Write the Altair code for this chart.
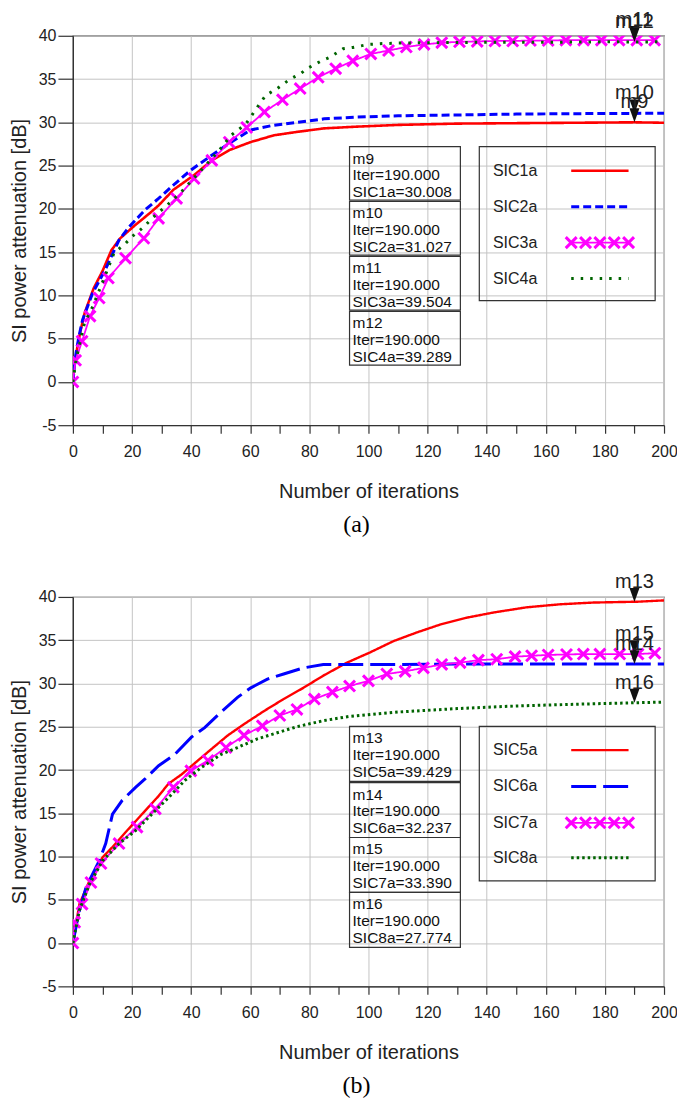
import altair as alt

# ---------------- data: panel (a) ----------------
sic1a_x = [0, 0.5, 1.5, 2.5, 4, 7, 10, 13, 16, 21, 26, 29, 34, 41, 47, 53, 60, 68, 76, 85, 96, 110, 130, 150, 170, 190, 200]
sic1a_y = [0, 2.0, 4.0, 5.8, 8.0, 10.8, 12.8, 15.2, 16.6, 18.1, 19.5, 20.4, 22.2, 23.9, 25.6, 26.8, 27.7, 28.5, 28.9, 29.3, 29.5, 29.7, 29.85, 29.9, 29.95, 30.0, 29.95]

sic2a_x = [0, 0.5, 1.1, 2, 3.3, 6.7, 11, 15.6, 19, 24.5, 29, 34.5, 40, 47, 53.5, 60, 67, 76, 85, 96, 110, 130, 150, 170, 190, 200]
sic2a_y = [0, 1.8, 3.4, 5.2, 7.2, 10.3, 13.0, 16.4, 17.9, 19.9, 21.2, 22.9, 24.5, 26.2, 27.7, 29.1, 29.6, 30.0, 30.4, 30.6, 30.75, 30.85, 30.95, 31.0, 31.03, 31.05]

sic3a_x = [0, 0.9, 3.1, 5.8, 8.9, 12, 17.8, 24, 29, 35.1, 41, 47, 52.9, 58.8, 64.8, 70.9, 76.9, 83, 88.9, 94.7,
           100.8, 106.8, 112.8, 118.8, 124.8, 130.8, 136.8, 142.8, 148.8, 154.8, 160.8, 166.8, 172.8, 178.8, 184.8, 190.8, 196.8]
sic3a_y = [0, 2.5, 4.7, 7.6, 9.7, 12.0, 14.3, 16.6, 18.9, 21.2, 23.5, 25.6, 27.7, 29.4, 31.2, 32.6, 33.9, 35.2, 36.2, 37.1,
           37.9, 38.3, 38.7, 39.0, 39.2, 39.3, 39.35, 39.4, 39.4, 39.45, 39.45, 39.5, 39.5, 39.5, 39.5, 39.5, 39.5]

sic4a_x = [0, 1.1, 3.9, 6.7, 10, 13.9, 17.8, 20, 24, 26.7, 31.8, 36.8, 43.5, 49.6, 53.5, 58.5, 61.3, 65.2, 69.1, 73.5,
           76.9, 79.7, 84.1, 86.9, 91.4, 94.7, 100, 105, 110, 120, 140, 160, 180, 190, 200]
sic4a_y = [0, 2.6, 6.8, 8.7, 11.5, 14.9, 16.0, 16.8, 17.9, 18.9, 20.4, 22.0, 24.5, 26.8, 28.5, 29.8, 31.2, 33.1, 33.9, 35.0,
           35.6, 36.3, 37.1, 37.5, 38.5, 38.65, 39.0, 39.1, 39.15, 39.2, 39.25, 39.25, 39.3, 39.29, 39.3]

a_series = ["SIC1a", "SIC2a", "SIC3a", "SIC4a"]
a_markers = ["m9", "m10", "m11", "m12"]
a_marker_vals = [30.008, 31.027, 39.504, 39.289]

# ---------------- data: panel (b) ----------------
sic5a_x = [0, 2.2, 5.6, 10, 13.4, 17.8, 23.4, 29, 32.3, 36.8, 42.3, 46.8, 52.4, 57.9, 64.6, 71.3, 78, 84.7, 92.7, 100.6,
           108.5, 116.4, 124.2, 133.2, 142.3, 153.5, 164.8, 176, 191.2, 200]
sic5a_y = [0, 4.5, 7.2, 9.9, 11.1, 12.8, 14.9, 17.0, 18.4, 19.5, 21.1, 22.4, 24.0, 25.3, 26.8, 28.2, 29.5, 30.9, 32.4, 33.6,
           34.9, 35.9, 36.8, 37.6, 38.2, 38.8, 39.15, 39.35, 39.45, 39.6]

sic6a_x = [0, 2, 4.5, 8.9, 11.1, 13.4, 16.7, 21.2, 24.5, 29, 34.5, 40.1, 44.6, 50.1, 55.7, 60.2, 65.8, 71.3, 78, 84.7,
           93.6, 110, 130, 150, 170, 190, 200]
sic6a_y = [0, 3.5, 6.5, 9.5, 11.5, 14.9, 16.5, 18.0, 19.0, 20.5, 21.8, 23.8, 24.9, 26.7, 28.4, 29.5, 30.5, 31.1, 31.8, 32.2,
           32.2, 32.2, 32.25, 32.25, 32.25, 32.24, 32.25]

sic7a_x = [0, 0.6, 3.1, 6.1, 9.5, 15.6, 21.7, 27.9, 34, 39.9, 45.7, 51.8, 57.9, 64.1, 70, 75.8, 81.7, 87.8, 93.6, 100,
           106.2, 112.4, 118.6, 124.8, 131, 137.2, 143.4, 149.6, 155.2, 160.8, 167, 172.7, 178.3, 185, 191.2, 196.9]
sic7a_y = [0, 2.4, 4.5, 7.0, 9.2, 11.5, 13.4, 15.5, 18.0, 19.9, 21.1, 22.6, 24.0, 25.1, 26.3, 27.0, 28.2, 29.0, 29.7, 30.3,
           31.1, 31.4, 31.8, 32.2, 32.4, 32.7, 32.8, 33.1, 33.2, 33.3, 33.35, 33.4, 33.4, 33.4, 33.4, 33.5]

sic8a_x = [0, 2.2, 5.6, 10, 15.6, 21.2, 26.7, 32.3, 37.9, 43.5, 50.1, 55.7, 62.4, 69.1, 75.8, 84.7, 93.6, 110, 130, 150,
           170, 190, 200]
sic8a_y = [0, 3.8, 6.8, 9.5, 11.5, 13.0, 14.9, 16.8, 18.8, 20.3, 21.8, 22.6, 23.6, 24.3, 25.0, 25.7, 26.2, 26.7, 27.1, 27.4,
           27.6, 27.77, 27.85]

b_series = ["SIC5a", "SIC6a", "SIC7a", "SIC8a"]
b_markers = ["m13", "m14", "m15", "m16"]
b_marker_vals = [39.429, 32.237, 33.390, 27.774]

MARKER_ITER = 190.0

x_ticks = list(range(0, 201, 10))
y_ticks = list(range(-5, 41, 5))

# ---------------- styles / layout ----------------
STYLE = {
    "SIC1a": dict(color="#ff0000", dash=[1, 0], width=2.6, xmark=False),
    "SIC2a": dict(color="#0000ff", dash=[8, 4], width=3, xmark=False),
    "SIC3a": dict(color="#ff00ff", dash=[1, 0], width=1.8, xmark=True),
    "SIC4a": dict(color="#006400", dash=[2.5, 7], width=3, xmark=False),
    "SIC5a": dict(color="#ff0000", dash=[1, 0], width=2.4, xmark=False),
    "SIC6a": dict(color="#0000ff", dash=[25, 7], width=3, xmark=False),
    "SIC7a": dict(color="#ff00ff", dash=[1, 0], width=1.8, xmark=True),
    "SIC8a": dict(color="#006400", dash=[2.5, 3], width=3, xmark=False),
}
FONT = "Liberation Sans"
XSHAPE = "M-1,-1L1,1M-1,1L1,-1"
TRI = "M-1,-2.8L1,-2.8L0,0Z"

LAYOUT_A = dict(box_x=[93.6, 131.1], box_tops=[27.2, 20.85, 14.5, 8.15], box_h=6.2,
                leg_box=[137.5, 197, 9.4, 27.2], leg_rows=[24.4, 20.25, 16.1, 11.95])
LAYOUT_B = dict(box_x=[93.6, 131.1], box_tops=[25.04, 18.55, 12.2, 5.85], box_h=6.35,
                leg_box=[137.5, 197, 7.2, 25.04], leg_rows=[22.3, 18.1, 13.9, 9.85])
LEG_LABEL_X = 142.1
LEG_LINE_X = [168.6, 188.0]

xscale = alt.Scale(domain=[0, 200], nice=False, zero=False)
yscale = alt.Scale(domain=[-5, 40], nice=False, zero=False)
xaxis = alt.Axis(title="Number of iterations", values=x_ticks,
                 labelExpr="datum.value % 20 === 0 ? datum.label : ''",
                 grid=True,
                 gridOpacity={"condition": {"test": "datum.value % 20 === 0", "value": 1}, "value": 0},
                 tickSize=8, labelPadding=10, titlePadding=22, labelFlush=False, labelOverlap=False)
yaxis = alt.Axis(title="SI power attenuation [dB]", values=y_ticks, grid=True, tickSize=15,
                 labelExpr="toString(datum.value)",
                 labelPadding=2, titlePadding=9, labelFlush=False, labelOverlap=False)


def X(field="x"):
    return alt.X(f"{field}:Q", scale=xscale, axis=xaxis)


def Y(field="y"):
    return alt.Y(f"{field}:Q", scale=yscale, axis=yaxis)


def panel(series, xs_list, ys_list, markers, marker_vals, lay, caption):
    layers = []
    # info boxes
    bx0, bx1 = lay["box_x"]
    box_vals = []
    for name, ser, v, top in zip(markers, series, marker_vals, lay["box_tops"]):
        box_vals.append({"x": bx0, "x2": bx1, "y": top, "y2": top - lay["box_h"],
                         "lines": [name, f"Iter={MARKER_ITER:.3f}", f"{ser}={v:.3f}"]})
    bdata = alt.Data(values=box_vals)
    layers.append(alt.Chart(bdata).mark_rect(fill="transparent", stroke="#333", strokeWidth=1.2).encode(
        x=X(), x2="x2:Q", y=Y(), y2="y2:Q"))
    layers.append(alt.Chart(bdata).mark_text(align="left", baseline="top", dx=3, dy=5, fontSize=15.5,
                                             lineHeight=16.8, font=FONT, color="#111").encode(
        x=X(), y=Y(), text="lines:N"))
    # legend box
    lx0, lx1, ly0, ly1 = lay["leg_box"]
    layers.append(alt.Chart(alt.Data(values=[{"x": lx0, "x2": lx1, "y": ly1, "y2": ly0}])).mark_rect(
        fill="transparent", stroke="#333", strokeWidth=1.2).encode(x=X(), x2="x2:Q", y=Y(), y2="y2:Q"))
    layers.append(alt.Chart(alt.Data(values=[{"x": LEG_LABEL_X, "y": r, "t": s}
                                             for s, r in zip(series, lay["leg_rows"])])).mark_text(
        align="left", baseline="middle", fontSize=16, font=FONT, color="#222").encode(x=X(), y=Y(), text="t:N"))
    for s, r in zip(series, lay["leg_rows"]):
        st = STYLE[s]
        layers.append(alt.Chart(alt.Data(values=[{"x": LEG_LINE_X[0], "x2": LEG_LINE_X[1], "y": r}])).mark_rule(
            color=st["color"], strokeDash=st["dash"], strokeWidth=st["width"]).encode(x=X(), x2="x2:Q", y=Y()))
        if st["xmark"]:
            n = 5
            step = (LEG_LINE_X[1] - LEG_LINE_X[0]) / (n - 1)
            pts = [{"x": LEG_LINE_X[0] + i * step, "y": r} for i in range(n)]
            layers.append(alt.Chart(alt.Data(values=pts)).mark_point(
                shape=XSHAPE, size=120, color=st["color"], strokeWidth=3, filled=False, opacity=1).encode(
                x=X(), y=Y()))
    # series
    for s, xs, ys in zip(series, xs_list, ys_list):
        st = STYLE[s]
        vals = [{"x": a, "y": b} for a, b in zip(xs, ys)]
        d = alt.Data(values=vals)
        layers.append(alt.Chart(d).mark_line(color=st["color"], strokeDash=st["dash"], strokeWidth=st["width"],
                                             clip=True).encode(x=X(), y=Y()))
        if st["xmark"]:
            layers.append(alt.Chart(d).mark_point(shape=XSHAPE, size=120, color=st["color"], strokeWidth=3,
                                                  filled=False, opacity=1, clip=True).encode(x=X(), y=Y()))
    # markers
    mdata = alt.Data(values=[{"x": MARKER_ITER, "y": v, "m": m} for m, v in zip(markers, marker_vals)])
    layers.append(alt.Chart(mdata).mark_point(shape=TRI, size=100, filled=True, color="#111", opacity=1,
                                              strokeWidth=0).encode(x=X(), y=Y()))
    layers.append(alt.Chart(mdata).mark_text(dy=-14, baseline="alphabetic", align="center", fontSize=20,
                                             font=FONT, color="#222").encode(x=X(), y=Y(), text="m:N"))
    return alt.layer(*layers).properties(
        width=592, height=390,
        title=alt.TitleParams(text=caption, orient="bottom", font="Liberation Serif", fontSize=24,
                              fontWeight="normal", color="#000", offset=12, anchor="middle", frame="group", dx=-12))


top = panel(a_series, [sic1a_x, sic2a_x, sic3a_x, sic4a_x], [sic1a_y, sic2a_y, sic3a_y, sic4a_y],
            a_markers, a_marker_vals, LAYOUT_A, "(a)")
bottom = panel(b_series, [sic5a_x, sic6a_x, sic7a_x, sic8a_x], [sic5a_y, sic6a_y, sic7a_y, sic8a_y],
               b_markers, b_marker_vals, LAYOUT_B, "(b)")

chart = alt.vconcat(top, bottom, spacing=33, background="white",
                    padding={"top": 0, "left": 0, "right": -1, "bottom": 0}).configure_axis(
    labelFont=FONT, labelFontSize=16, titleFont=FONT, titleFontSize=20, titleFontWeight="normal",
    labelColor="#222", titleColor="#222", domainColor="#333", tickColor="#333",
    gridColor="#c4c4c4", gridWidth=1, domainWidth=1.2, tickWidth=1.2
).configure_view(stroke="#333", strokeWidth=1.2)

chart.save("out.html", embed_options={"renderer": "svg", "actions": False})
